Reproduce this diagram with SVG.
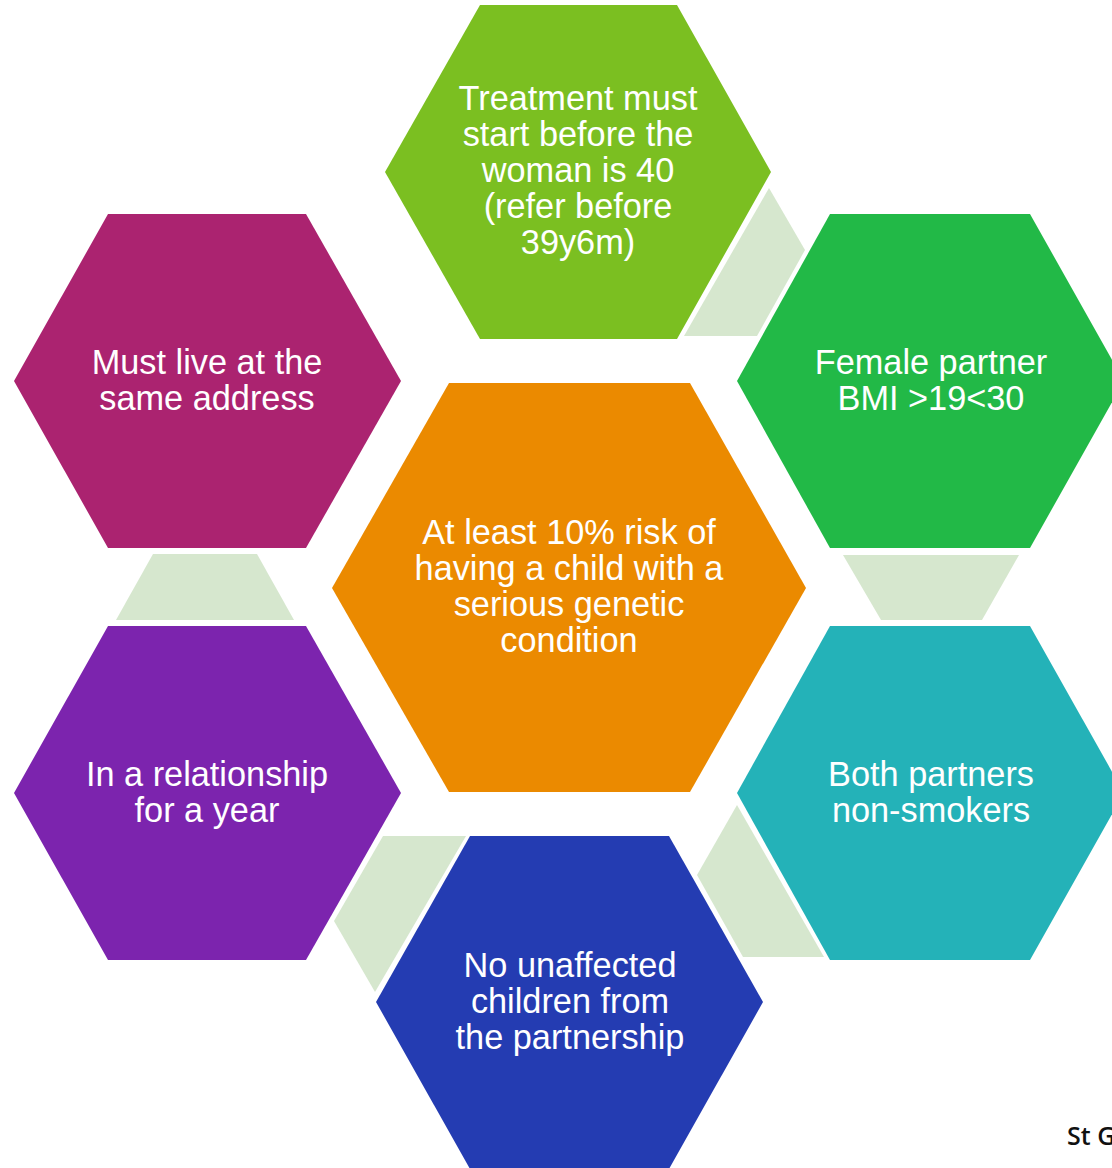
<svg xmlns="http://www.w3.org/2000/svg" width="1112" height="1168" viewBox="0 0 1112 1168">
<style>
text{font-family:"Liberation Sans",Arial,sans-serif;font-size:34.3px;fill:#fff;text-anchor:middle}
.conn{fill:#d6e7ce}
.foot{font-family:"Open Sans","DejaVu Sans",sans-serif;font-size:25px;font-weight:600;fill:#111;text-anchor:start}
</style>
<rect width="1112" height="1168" fill="#fff"/>
<g id="connectors">
<polygon class="conn" points="769,188 805,250 757,336 684,336"/>
<polygon class="conn" points="153,554 257,554 294,620 116,620"/>
<polygon class="conn" points="843,555 1019,555 982,620 881,620"/>
<polygon class="conn" points="383,836 466,836 375,992 334,921"/>
<polygon class="conn" points="737,805 824,957 743,957 697,875"/>
</g>
<g id="node-treatment">
<polygon points="480,5 677,5 771,172 677,339 480,339 385,172" fill="#7bbf21"/>
<text x="578" y="110">Treatment must</text>
<text x="578" y="146">start before the</text>
<text x="578" y="182">woman is 40</text>
<text x="578" y="218">(refer before</text>
<text x="578" y="254">39y6m)</text>
</g>
<g id="node-bmi">
<polygon points="830,214 1030,214 1124,381 1030,548 830,548 737,381" fill="#22b947"/>
<text x="931" y="374">Female partner</text>
<text x="931" y="410">BMI &gt;19&lt;30</text>
</g>
<g id="node-address">
<polygon points="108,214 306,214 401,381 306,548 108,548 14,381" fill="#ab2370"/>
<text x="207" y="374">Must live at the</text>
<text x="207" y="410">same address</text>
</g>
<g id="node-center">
<polygon points="449,383 690,383 806,588 690,792 449,792 332,588" fill="#eb8a00"/>
<text x="569" y="544">At least 10% risk of</text>
<text x="569" y="580">having a child with a</text>
<text x="569" y="616">serious genetic</text>
<text x="569" y="652">condition</text>
</g>
<g id="node-relationship">
<polygon points="108,626 306,626 401,793 306,960 108,960 14,793" fill="#7c24ae"/>
<text x="207" y="786">In a relationship</text>
<text x="207" y="822">for a year</text>
</g>
<g id="node-smokers">
<polygon points="830,626 1030,626 1124,793 1030,960 830,960 737,793" fill="#24b2b8"/>
<text x="931" y="786">Both partners</text>
<text x="931" y="822">non-smokers</text>
</g>
<g id="node-children">
<polygon points="470,836 669,836 763,1002 669,1169 470,1169 376,1002" fill="#243cb2"/>
<text x="570" y="977">No unaffected</text>
<text x="570" y="1013">children from</text>
<text x="570" y="1049">the partnership</text>
</g>
<text class="foot" x="1067" y="1145">St G</text>
</svg>
